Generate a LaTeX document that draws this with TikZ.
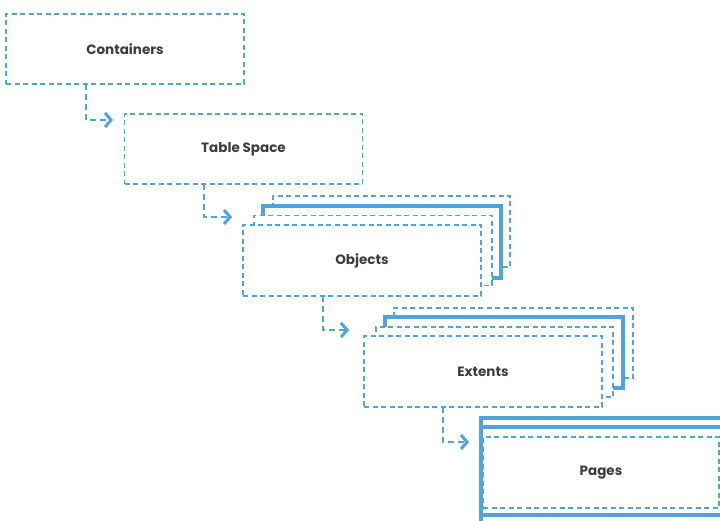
\documentclass[tikz,border=0pt]{standalone}
\usepackage{fontspec}
\setmainfont{Poppins}
\usetikzlibrary{arrows.meta}
\definecolor{lineblue}{HTML}{4EA5DC}
\definecolor{textgray}{HTML}{3D3D3D}
\begin{document}
\begin{tikzpicture}[x=1pt, y=-1pt,
    dbox/.style={draw=lineblue, line width=1.6pt, dash pattern=on 5pt off 3.5pt, fill=white,
        minimum width=238pt, minimum height=70pt, inner sep=0pt, outer sep=0pt,
        font=\fontsize{13.5}{15}\selectfont\bfseries, text=textgray},
    sbox/.style={draw=lineblue, line width=3.6pt, fill=white,
        minimum width=238pt, minimum height=70pt, inner sep=0pt, outer sep=0pt},
    link/.style={draw=lineblue, line width=2.4pt, dash pattern=on 6pt off 4pt,
        -{Straight Barb[length=6pt, width=14pt, line width=3pt]}}]
    % Fix the page size
    \useasboundingbox (0,0) rectangle (720,521);

    % Containers and table space
    \node[dbox] (cont) at (125,49) {Containers};
    \node[dbox] (tsp) at (243.5,149) {Table Space};

    % Objects (stack drawn back to front)
    \node[dbox, minimum width=237pt, minimum height=71pt] (obj3) at (391.5,231.5) {};
    \node[sbox, minimum height=72pt] (obj2) at (382,242) {};
    \node[dbox] (obj1) at (373,250.5) {};
    \node[dbox, minimum height=71pt] (obj) at (362,260.5) {Objects};

    % Extents (stack drawn back to front)
    \node[dbox, minimum width=239pt] (ext3) at (513.5,343) {};
    \node[sbox, minimum height=71pt] (ext2) at (504,352.5) {};
    \node[dbox, minimum width=237pt] (ext1) at (494.5,362) {};
    \node[dbox, minimum height=71pt] (ext) at (483,371.5) {Extents};

    % Pages (runs off the page)
    \node[sbox, minimum width=290pt, minimum height=105pt] (pg2) at (626,470.5) {};
    \node[sbox, minimum width=290pt, minimum height=88pt] (pg1) at (626,471) {};
    \node[dbox, minimum width=236pt, minimum height=71pt] (pg) at (601,472.5) {Pages};

    % Arrow ends
    \coordinate (tip1) at (113,120);
    \coordinate (tip2) at (232,217);
    \coordinate (tip3) at (349,330);
    \coordinate (tip4) at (469,442);

    % Connectors
    \draw[link] ([xshift=-39pt]cont.south) |- (tip1);
    \draw[link] ([xshift=-39.5pt]tsp.south) |- (tip2);
    \draw[link] ([xshift=-39pt]obj.south) |- (tip3);
    \draw[link] ([xshift=-40pt]ext.south) |- (tip4);
\end{tikzpicture}
\end{document}
